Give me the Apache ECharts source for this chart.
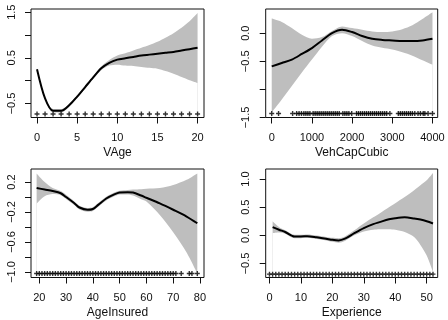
<!DOCTYPE html>
<html>
<head>
<meta charset="utf-8">
<script src="https://cdn.jsdelivr.net/npm/echarts@6/dist/echarts.min.js"></script>
<style>
  html, body { margin: 0; padding: 0; background: #fff; }
  #chart { width: 448px; height: 320px; }
</style>
</head>
<body>
<div id="chart"></div>
<script>
// VAge
var vageX = [0, 1, 2, 3, 4, 5, 6, 7, 8, 9, 10, 11, 12, 13, 14, 15, 16, 17, 18, 19, 20];
var vageFit = [0.25, -0.39, -0.66, -0.66, -0.54, -0.35, -0.14, 0.07, 0.27, 0.39, 0.46, 0.49, 0.52, 0.55, 0.57, 0.59, 0.61, 0.63, 0.66, 0.69, 0.72];
var vageLo = [0.23, -0.41, -0.70, -0.70, -0.57, -0.38, -0.17, 0.04, 0.23, 0.33, 0.35, 0.33, 0.32, 0.30, 0.28, 0.26, 0.21, 0.15, 0.08, 0.01, -0.05];
var vageHi = [0.27, -0.37, -0.62, -0.62, -0.51, -0.32, -0.11, 0.10, 0.31, 0.45, 0.55, 0.60, 0.66, 0.72, 0.78, 0.85, 0.94, 1.04, 1.16, 1.30, 1.48];
var vageRug = [0, 1, 2, 3, 4, 5, 6, 7, 8, 9, 10, 11, 12, 13, 14, 15, 16, 17, 18, 19, 20];

// VehCapCubic
var capX = [0, 250, 500, 750, 1000, 1250, 1500, 1750, 2000, 2250, 2500, 2750, 3000, 3250, 3500, 3750, 4000];
var capFit = [-0.59, -0.53, -0.47, -0.37, -0.265, -0.13, 0.0, 0.06, 0.02, -0.05, -0.10, -0.12, -0.13, -0.14, -0.14, -0.13, -0.10];
var capLo = [-1.41, -1.18, -0.94, -0.70, -0.47, -0.24, -0.05, 0.0, -0.05, -0.14, -0.22, -0.26, -0.29, -0.34, -0.40, -0.48, -0.56];
var capHi = [0.26, 0.20, 0.09, -0.03, -0.10, -0.07, 0.04, 0.12, 0.09, 0.06, 0.03, 0.02, 0.03, 0.07, 0.14, 0.25, 0.37];
var capRug = [0, 170, 520, 620, 680, 740, 800, 850, 900, 950, 1030, 1080, 1130, 1180, 1230, 1280, 1330, 1380, 1430, 1480,
  1530, 1580, 1630, 1680, 1770, 1820, 1870, 1920, 1990, 2110, 2160, 2210, 2260, 2310, 2360, 2410, 2460, 2510, 2560, 2610,
  2660, 2710, 2760, 2810, 2860, 2940, 3150, 3200, 3250, 3300, 3350, 3400, 3450, 3500, 3560, 3640, 3700, 3770, 3810, 3890, 4000];

// AgeInsured
var ageX = [19, 22, 25, 28, 30, 33, 35, 38, 40, 42, 45, 48, 50, 53, 55, 58, 60, 65, 70, 75, 79];
var ageFit = [0.12, 0.10, 0.08, 0.05, 0.0, -0.08, -0.14, -0.17, -0.16, -0.105, -0.02, 0.035, 0.06, 0.065, 0.06, 0.02, -0.01, -0.085, -0.17, -0.26, -0.35];
var ageLo = [-0.09, 0.01, 0.04, 0.025, -0.025, -0.105, -0.165, -0.195, -0.185, -0.13, -0.045, 0.01, 0.035, 0.035, 0.02, -0.03, -0.06, -0.24, -0.47, -0.74, -1.02];
var ageHi = [0.315, 0.20, 0.12, 0.08, 0.03, -0.055, -0.115, -0.145, -0.135, -0.08, 0.005, 0.06, 0.085, 0.095, 0.10, 0.105, 0.11, 0.12, 0.16, 0.23, 0.315];
var ageRug = [19, 20, 21, 22, 23, 24, 25, 26, 27, 28, 29, 30, 31, 32, 33, 34, 35, 36, 37, 38, 39, 40, 41, 42, 43, 44, 45,
  46, 47, 48, 49, 50, 51, 52, 53, 54, 55, 56, 57, 58, 59, 60, 61, 62, 63, 64, 65, 66, 67, 68, 69, 70, 71, 73, 76, 77, 79];

// Experience
var expX = [1, 3, 5, 8, 10, 12, 15, 18, 20, 22, 24, 27, 30, 33, 35, 38, 40, 43, 46, 48, 50, 52];
var expFit = [0.147, 0.10, 0.06, -0.02, -0.02, -0.015, -0.035, -0.06, -0.08, -0.09, -0.06, 0.04, 0.13, 0.20, 0.235, 0.285, 0.305, 0.32, 0.30, 0.28, 0.25, 0.21];
var expLo = [0.04, 0.05, 0.03, -0.05, -0.05, -0.045, -0.065, -0.09, -0.115, -0.13, -0.10, 0.0, 0.07, 0.10, 0.11, 0.11, 0.10, 0.06, -0.03, -0.17, -0.36, -0.65];
var expHi = [0.25, 0.15, 0.09, 0.01, 0.01, 0.015, -0.005, -0.03, -0.045, -0.05, -0.02, 0.09, 0.21, 0.32, 0.39, 0.50, 0.57, 0.68, 0.80, 0.89, 0.98, 1.11];
var expRug = [0, 1, 2, 3, 4, 5, 6, 7, 8, 9, 10, 11, 12, 13, 14, 15, 16, 17, 18, 19, 20, 21, 22, 23, 24, 25, 26,
  27, 28, 29, 30, 31, 32, 33, 34, 35, 36, 37, 38, 39, 40, 41, 42, 43, 44, 45, 46, 47, 48, 49, 50, 51, 52];

var font = 'Liberation Sans, Arial, sans-serif';
// '+' used for the rug marks
var plus = 'path://M0.36,0H0.64V0.36H1V0.64H0.64V1H0.36V0.64H0V0.36H0.36Z';

var panels = [
  { name: 'VAge', x: vageX, fit: vageFit, lo: vageLo, hi: vageHi, rug: vageRug, rugY: -0.73,
    xMin: -0.75, xMax: 20.8, xTicks: [0, 5, 10, 15, 20],
    yMin: -0.808, yMax: 1.57, yTicks: [-0.5, 0, 0.5, 1, 1.5], yLabels: [-0.5, 0.5, 1.5],
    grid: { left: 31, top: 9, width: 173, height: 108.5 } },
  { name: 'VehCapCubic', x: capX, fit: capFit, lo: capLo, hi: capHi, rug: capRug, rugY: -1.43,
    xMin: -150, xMax: 4130, xTicks: [0, 1000, 2000, 3000, 4000],
    yMin: -1.5, yMax: 0.43, yTicks: [-1.5, -1, -0.5, 0], yLabels: [-1.5, -0.5, 0],
    grid: { left: 265.7, top: 9, width: 172, height: 108.5 } },
  { name: 'AgeInsured', x: ageX, fit: ageFit, lo: ageLo, hi: ageHi, rug: ageRug, rugY: -1.02,
    xMin: 16.9, xMax: 81.5, xTicks: [20, 30, 40, 50, 60, 70, 80],
    yMin: -1.074, yMax: 0.374, yTicks: [-1, -0.8, -0.6, -0.4, -0.2, 0, 0.2], yLabels: [-1, -0.6, -0.2, 0.2],
    grid: { left: 31, top: 169, width: 173, height: 108.5 } },
  { name: 'Experience', x: expX, fit: expFit, lo: expLo, hi: expHi, rug: expRug, rugY: -0.69,
    xMin: -1.2, xMax: 53.5, xTicks: [0, 10, 20, 30, 40, 50],
    yMin: -0.75, yMax: 1.18, yTicks: [-0.5, 0, 0.5, 1], yLabels: [-0.5, 0, 0.5, 1],
    grid: { left: 265.7, top: 169, width: 172, height: 108.5 } }
];

var grids = [], xAxes = [], yAxes = [], series = [];

panels.forEach(function (p, i) {
  // box drawn above the series so the white mask doesn't eat the border
  grids.push(Object.assign({ show: true, z: 10, backgroundColor: 'transparent', borderColor: '#111', borderWidth: 1,
    outerBoundsMode: 'none', containLabel: false }, p.grid));

  xAxes.push({
    type: 'value', gridIndex: i, min: p.xMin, max: p.xMax,
    name: p.name, nameLocation: 'middle', nameGap: 29,
    nameTextStyle: { fontFamily: font, fontSize: 12, color: '#111' },
    axisLine: { show: false, onZero: false },
    axisTick: { show: true, length: 6, customValues: p.xTicks, lineStyle: { color: '#111' } },
    axisLabel: { customValues: p.xTicks, fontFamily: font, fontSize: 11, color: '#111', margin: 15,
      formatter: function (v) { return String(v); } },
    splitLine: { show: false }
  });

  yAxes.push({
    type: 'value', gridIndex: i, min: p.yMin, max: p.yMax,
    axisLine: { show: false, onZero: false },
    axisTick: { show: true, length: 6, customValues: p.yTicks, lineStyle: { color: '#111' } },
    axisLabel: {
      customValues: p.yLabels, rotate: 90, fontFamily: font, fontSize: 11, color: '#111', margin: 14,
      formatter: function (v) { return v.toFixed(1).replace('-', '\u2212'); }
    },
    splitLine: { show: false }
  });

  var hiData = p.x.map(function (x, k) { return [x, p.hi[k]]; });
  var loData = p.x.map(function (x, k) { return [x, p.lo[k]]; });
  var fitData = p.x.map(function (x, k) { return [x, p.fit[k]]; });
  var rugData = p.rug.map(function (x) { return [x, p.rugY]; });

  // confidence band: gray under the upper edge, white under the lower edge
  series.push({
    type: 'line', xAxisIndex: i, yAxisIndex: i, data: hiData,
    smooth: 0.3, symbol: 'none', lineStyle: { width: 0, opacity: 0 },
    areaStyle: { color: '#bebebe', opacity: 1, origin: p.yMin }, silent: true, z: 1
  });
  series.push({
    type: 'line', xAxisIndex: i, yAxisIndex: i, data: loData,
    smooth: 0.3, symbol: 'none', lineStyle: { width: 0, opacity: 0 },
    areaStyle: { color: '#ffffff', opacity: 1, origin: p.yMin }, silent: true, z: 2
  });
  series.push({
    type: 'line', xAxisIndex: i, yAxisIndex: i, data: fitData,
    smooth: 0.3, symbol: 'none', lineStyle: { color: '#000', width: 2 }, z: 3
  });
  series.push({
    type: 'scatter', xAxisIndex: i, yAxisIndex: i, data: rugData,
    symbol: plus, symbolSize: 5, itemStyle: { color: '#000' }, z: 4
  });
});

var myChart = echarts.init(document.getElementById('chart'));
myChart.setOption({
  animation: false,
  grid: grids,
  xAxis: xAxes,
  yAxis: yAxes,
  series: series
});
</script>
</body>
</html>
